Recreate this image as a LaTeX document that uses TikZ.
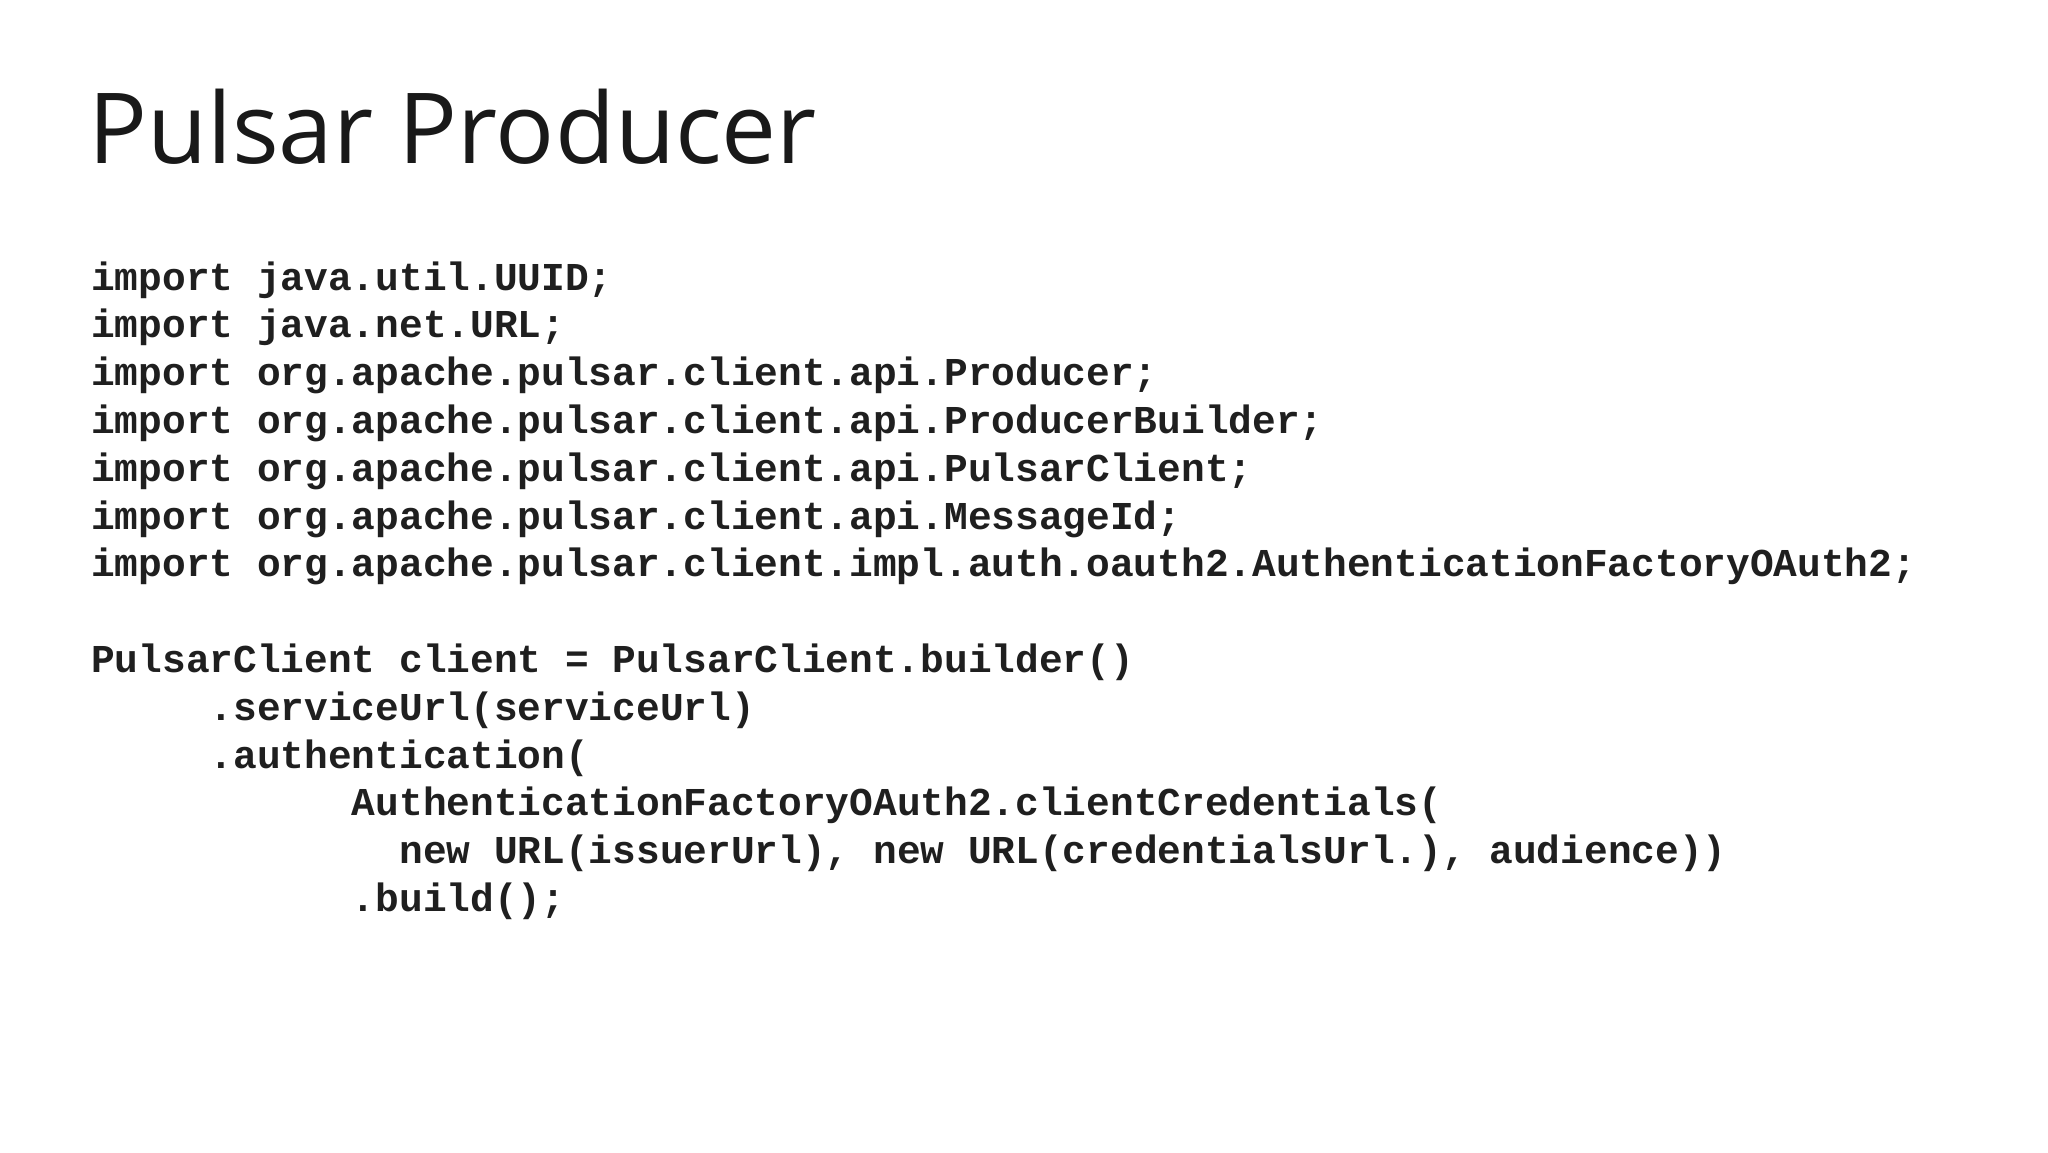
\documentclass[tikz,border=0pt]{standalone}
\usepackage{fontspec}
\setmainfont{Open Sans}
\newfontfamily\codefont{Liberation Mono}[BoldFont={* Bold}]
\begin{document}
\begin{tikzpicture}[x=1pt,y=-1pt,
  codeline/.style={anchor=base west,inner sep=0pt,font=\codefont\bfseries\fontsize{39.5}{40}\selectfont,text=black!88}]
\useasboundingbox[fill=white] (0,0) rectangle (2048,1152);
\node[anchor=base west,inner sep=0pt,font=\fontsize{98}{100}\selectfont,text=black!90] (title) at (88,163) {Pulsar Producer};
\def\cw{23.7}
\def\ls{47.8}
\node[codeline] (l1) at (91,290+0*\ls) {import java.util.UUID;};
\node[codeline] (l2) at (91,290+1*\ls) {import java.net.URL;};
\node[codeline] (l3) at (91,290+2*\ls) {import org.apache.pulsar.client.api.Producer;};
\node[codeline] (l4) at (91,290+3*\ls) {import org.apache.pulsar.client.api.ProducerBuilder;};
\node[codeline] (l5) at (91,290+4*\ls) {import org.apache.pulsar.client.api.PulsarClient;};
\node[codeline] (l6) at (91,290+5*\ls) {import org.apache.pulsar.client.api.MessageId;};
\node[codeline] (l7) at (91,290+6*\ls) {import org.apache.pulsar.client.impl.auth.oauth2.AuthenticationFactoryOAuth2;};
\node[codeline] (l9) at (91,290+8*\ls) {PulsarClient client = PulsarClient.builder()};
\node[codeline] (l10) at (91+5*\cw,290+9*\ls) {.serviceUrl(serviceUrl)};
\node[codeline] (l11) at (91+5*\cw,290+10*\ls) {.authentication(};
\node[codeline] (l12) at (91+11*\cw,290+11*\ls) {AuthenticationFactoryOAuth2.clientCredentials(};
\node[codeline] (l13) at (91+13*\cw,290+12*\ls) {new URL(issuerUrl), new URL(credentialsUrl.), audience))};
\node[codeline] (l14) at (91+11*\cw,290+13*\ls) {.build();};
\end{tikzpicture}
\end{document}
